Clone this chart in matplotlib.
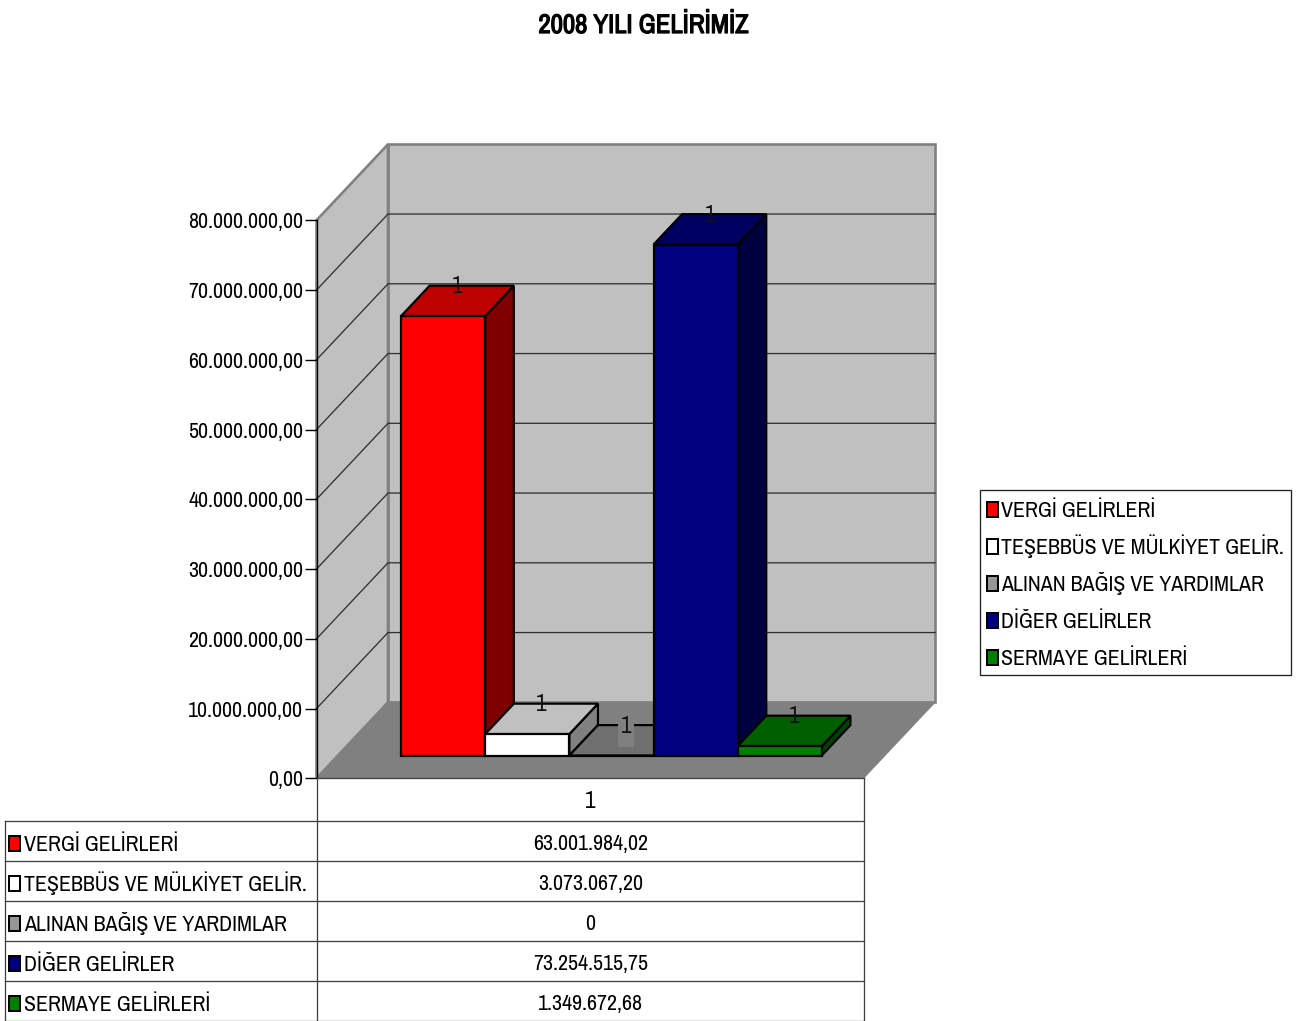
import matplotlib
matplotlib.use("Agg")
import matplotlib.pyplot as plt
import matplotlib.patheffects as pe
from matplotlib.patches import Polygon, Rectangle
from matplotlib.ticker import FuncFormatter
from matplotlib import font_manager as fm

# ---- data ----
title = "2008 YILI GELİRİMİZ"
categories = ["VERGİ GELİRLERİ", "TEŞEBBÜS VE MÜLKİYET GELİR.", "ALINAN BAĞIŞ VE YARDIMLAR",
              "DİĞER GELİRLER", "SERMAYE GELİRLERİ"]
values = [63001984.02, 3073067.20, 0, 73254515.75, 1349672.68]
value_labels = ["63.001.984,02", "3.073.067,20", "0", "73.254.515,75", "1.349.672,68"]
front_colors = ["#FF0000", "#FFFFFF", "#969696", "#000080", "#008000"]
top_colors = ["#BF0000", "#C0C0C0", "#707070", "#000060", "#006000"]
side_colors = ["#800000", "#808080", "#4B4B4B", "#000040", "#004000"]
y_ticks = [0, 10e6, 20e6, 30e6, 40e6, 50e6, 60e6, 70e6, 80e6]
category_label = "1"

names = {f.name for f in fm.fontManager.ttflist}
FONT = next((n for n in ["Archivo Narrow", "Liberation Sans Narrow", "Roboto Condensed", "Liberation Sans"] if n in names), "DejaVu Sans")
plt.rcParams["font.family"] = [FONT, "Liberation Sans", "DejaVu Sans"]
FS = 15.8
FS_ONE = 16.8

W, H = 1300, 1021
fig = plt.figure(figsize=(W / 100, H / 100), dpi=100, facecolor="white")
px = 0.72  # one pixel in points

ov = fig.add_axes([0, 0, 1, 1], zorder=3)
ov.set_xlim(0, W); ov.set_ylim(H, 0); ov.axis("off"); ov.patch.set_alpha(0)

L, R, Y0, Y80 = 316.5, 863.5, 778.3, 220.3
ax = fig.add_axes([L / W, 1 - Y0 / H, (R - L) / W, (Y0 - Y80) / H], zorder=2)
ax.patch.set_alpha(0)
ax.set_xlim(0.5, 1.5)
ax.set_ylim(0, 80e6)
for s in ["top", "right", "bottom"]:
    ax.spines[s].set_visible(False)
ax.spines["left"].set_linewidth(1.4 * px)
ax.spines["left"].set_zorder(1)
ax.set_xticks([])
ax.set_yticks(y_ticks)
ax.yaxis.set_major_formatter(FuncFormatter(lambda v, p: f"{v:,.2f}".replace(",", "X").replace(".", ",").replace("X", ".")))
ax.tick_params(axis="y", length=12 * px, width=1.4 * px, pad=1, labelsize=FS)

DX = 71.5 / (R - L)
DY = 76 / (Y0 - Y80) * 80e6
def pt(x, v, d):
    return (x + d * DX, v + d * DY)

XL, XR, VT = 0.5, 1.5, 80e6
WALL = "#808080"
ax.add_patch(Polygon([pt(XL, 0, 1), pt(XR, 0, 1), pt(XR, VT, 1), pt(XL, VT, 1)], fc="#C0C0C0", ec=WALL, lw=2.6 * px, clip_on=False, zorder=0.5))
ax.add_patch(Polygon([pt(XL, 0, 0), pt(XL, 0, 1), pt(XL, VT, 1), pt(XL, VT, 0)], fc="#C0C0C0", ec=WALL, lw=2.6 * px, clip_on=False, zorder=0.5))
for t in y_ticks[1:-1]:
    p = [pt(XL, t, 0), pt(XL, t, 1), pt(XR, t, 1)]
    ax.plot(*zip(*p), color="#303030", lw=1.3 * px, clip_on=False, zorder=0.6)
ax.add_patch(Polygon([pt(XL, 0, 0), pt(XR, 0, 0), pt(XR, 0, 1), pt(XL, 0, 1)], fc="#808080", ec=WALL, lw=1 * px, clip_on=False, zorder=0.7))

BW = 1 / 6.5
D0, D1 = 0.30, 0.70
n = len(values)
BAR_EDGE = 2.2 * px
for i, v in enumerate(values):
    x0 = 1 + (i - n / 2) * BW
    x1 = x0 + BW
    z = 2 + i * 0.1
    kw = dict(ec="black", lw=BAR_EDGE, clip_on=False, zorder=z, joinstyle="miter")
    ax.add_patch(Polygon([pt(x1, 0, D0), pt(x1, 0, D1), pt(x1, v, D1), pt(x1, v, D0)], fc=side_colors[i], **kw))
    ax.add_patch(Polygon([pt(x0, v, D0), pt(x1, v, D0), pt(x1, v, D1), pt(x0, v, D1)], fc=top_colors[i], **kw))
    ax.add_patch(Polygon([pt(x0, 0, D0), pt(x1, 0, D0), pt(x1, v, D0), pt(x0, v, D0)], fc=front_colors[i], **kw))

V_PER_PX = 80e6 / (Y0 - Y80)
for i, v in enumerate(values):
    xc = 1 + (i - n / 2 + 0.5) * BW
    lx = pt(xc, v, 0.5)[0]
    ly = pt(xc, v, D1)[1]
    if v == 0:
        ax.add_patch(Rectangle((lx - 8 / (R - L), ly - 22 * V_PER_PX), 16 / (R - L),
                               34 * V_PER_PX, fc="#808080", ec="none", clip_on=False, zorder=z + 1))
    ax.text(lx, ly - 1 * V_PER_PX, category_label, ha="center", va="center", fontsize=FS_ONE, color="#111111", clip_on=False, zorder=z + 2)

ov.text(643.5, 33, title, ha="center", va="baseline", fontsize=19.3, color="black",
        path_effects=[pe.withStroke(linewidth=0.9, foreground="black")])

TL = 5
rows = [820.5, 860.5, 900.5, 940.5, 980.5, 1020.5]
GRID = "#404040"
lw = 1.3 * px
ov.plot([L, R], [778, 778], color=GRID, lw=lw)
for y in rows:
    ov.plot([TL, R], [y, y], color=GRID, lw=lw)
ov.plot([TL, TL], [rows[0], rows[-1]], color=GRID, lw=lw)
ov.plot([L, L], [778, rows[-1]], color=GRID, lw=lw)
ov.plot([R, R], [778, rows[-1]], color=GRID, lw=lw)
ov.text((L + R) / 2 + 0.5, 808, category_label, ha="center", va="baseline", fontsize=FS_ONE, color="black")

def swatch(x, yc, color):
    ov.add_patch(Rectangle((x, yc - 7.5), 10.5, 15, fc=color, ec="black", lw=2 * px))

for i, name in enumerate(categories):
    base = rows[i] + 30
    swatch(9, rows[i] + 22.5, front_colors[i])
    ov.text(24, base, name, ha="left", va="baseline", fontsize=FS, color="black")
    ov.text((L + R) / 2 + 0.5, base - 1, value_labels[i], ha="center", va="baseline", fontsize=FS, color="black")

ov.add_patch(Rectangle((980, 490), 311, 185, fc="white", ec="#202020", lw=1.3 * px))
leg_y = [509, 546, 583, 620, 657]
for i, name in enumerate(categories):
    swatch(987, leg_y[i], front_colors[i])
    ov.text(1001, leg_y[i] + 8, name, ha="left", va="baseline", fontsize=FS, color="black")

fig.savefig("out.png", dpi=100, facecolor="white")
